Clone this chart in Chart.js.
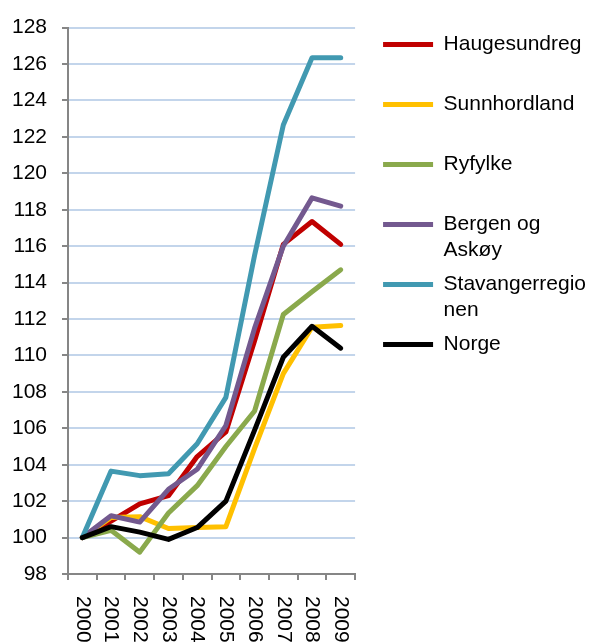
<!DOCTYPE html>
<html>
<head>
<meta charset="utf-8">
<script src="https://cdn.jsdelivr.net/npm/chart.js@4.4.1/dist/chart.umd.min.js"></script>
<style>
  html, body { margin: 0; padding: 0; background: #fff; }
  #wrap { width: 589px; height: 642px; position: relative; }
</style>
</head>
<body>
<div id="wrap"><canvas id="line_chart"></canvas></div>
<script>
// categories
const years = ['2000', '2001', '2002', '2003', '2004', '2005', '2006', '2007', '2008', '2009'];

// series (index, 2000 = 100)
const haugesundreg = [100, 100.9, 101.85, 102.3, 104.45, 105.8, 110.8, 116.1, 117.35, 116.1];
const sunnhordland = [100, 101.1, 101.15, 100.5, 100.55, 100.6, 104.9, 109.0, 111.55, 111.65];
const ryfylke = [100, 100.4, 99.2, 101.35, 102.85, 105.0, 106.95, 112.25, 113.5, 114.7];
const bergenAskoy = [100, 101.2, 100.85, 102.65, 103.75, 106.15, 111.5, 116.0, 118.65, 118.2];
const stavanger = [100, 103.65, 103.4, 103.5, 105.15, 107.7, 115.5, 122.65, 126.35, 126.35];
const norge = [100, 100.6, 100.3, 99.9, 100.55, 102.0, 105.9, 109.9, 111.6, 110.4];

// legend text, wrapped the way the original shows it
const seriesNames = ['Haugesundreg', 'Sunnhordland', 'Ryfylke', 'Bergen og Askøy', 'Stavangerregionen', 'Norge'];
const legendLines = [['Haugesundreg', ''], ['Sunnhordland', ''], ['Ryfylke', ''], ['Bergen og', 'Askøy'], ['Stavangerregio', 'nen'], ['Norge', '']];
const seriesColors = ['#c00000', '#ffc000', '#8aa94c', '#73598f', '#4199b1', '#000000'];

// y axis range
const yMin = 98;
const yMax = 128;
const yStep = 2;

const FONT = '"Liberation Sans", Arial, sans-serif';
Chart.defaults.font.family = FONT;
Chart.defaults.font.size = 21;
Chart.defaults.color = '#000';

const allSeries = [haugesundreg, sunnhordland, ryfylke, bergenAskoy, stavanger, norge];

let datasets = allSeries.map(function (values, i) {
    return {
        label: seriesNames[i],
        data: values,
        borderColor: seriesColors[i],
        backgroundColor: seriesColors[i],
        borderWidth: 5,
        borderCapStyle: 'round',
        borderJoinStyle: 'round',
        pointRadius: 0,
        pointHoverRadius: 0,
        tension: 0,
        // last series on top, like the original
        order: allSeries.length - i
    }
});

// rotated year labels (reading top-down) under the category axis
const yearLabels = {
    id: 'yearLabels',
    afterDraw(chart) {
        let ctx = chart.ctx;
        let xs = chart.scales.x;
        ctx.save();
        ctx.font = '21px ' + FONT;
        ctx.fillStyle = '#000';
        ctx.textAlign = 'left';
        ctx.textBaseline = 'middle';
        years.forEach(function (yr, i) {
            ctx.save();
            ctx.translate(xs.getPixelForValue(i), 596);
            ctx.rotate(Math.PI / 2);
            ctx.fillText(yr, 0, 0);
            ctx.restore();
        });
        ctx.restore();
    }
};

let ctx = document.getElementById('line_chart').getContext('2d');
let chart = new Chart(ctx, {
    type: 'line',
    data: {
        labels: years,
        datasets: datasets
    },
    options: {
        responsive: true,
        maintainAspectRatio: false,
        animation: false,
        layout: {
            padding: { top: 20, right: -7, bottom: 62, left: 0 }
        },
        scales: {
            x: {
                type: 'category',
                offset: true,
                grid: {
                    offset: true,
                    drawOnChartArea: false,
                    drawTicks: true,
                    tickLength: 6,
                    color: '#868686',
                    lineWidth: 2
                },
                border: { color: '#868686', width: 2 },
                ticks: { display: false }
            },
            y: {
                min: yMin,
                max: yMax,
                grid: {
                    color: '#c3d5eb',
                    lineWidth: 2,
                    tickColor: '#868686',
                    tickWidth: 2,
                    tickLength: 6
                },
                border: { color: '#868686', width: 2 },
                ticks: {
                    stepSize: yStep,
                    padding: 15,
                    color: '#000',
                    font: { size: 21 }
                },
                afterFit: function (s) { s.width = 68; }
            },
            // spacer between plot and legend
            gap: {
                type: 'linear',
                position: 'right',
                display: true,
                grid: { display: false },
                border: { display: false },
                ticks: { display: false },
                afterFit: function (s) { s.width = 20; }
            }
        },
        plugins: {
            legend: {
                position: 'right',
                align: 'start',
                maxWidth: 400,
                title: { display: true, text: '', padding: 0, font: { size: 5, lineHeight: 1.2 } },
                labels: {
                    usePointStyle: true,
                    pointStyle: 'line',
                    pointStyleWidth: 50,
                    padding: 8,
                    color: '#000',
                    font: { size: 21, lineHeight: 26 / 21 },
                    sort: function (a, b) { return a.datasetIndex - b.datasetIndex; },
                    generateLabels: function (chart) {
                        let items = Chart.defaults.plugins.legend.labels.generateLabels(chart);
                        items.forEach(function (it) {
                            it.text = legendLines[it.datasetIndex];
                            it.lineWidth = 5;
                        });
                        return items;
                    }
                }
            },
            tooltip: { enabled: false }
        }
    },
    plugins: [yearLabels]
});
</script>
</body>
</html>
